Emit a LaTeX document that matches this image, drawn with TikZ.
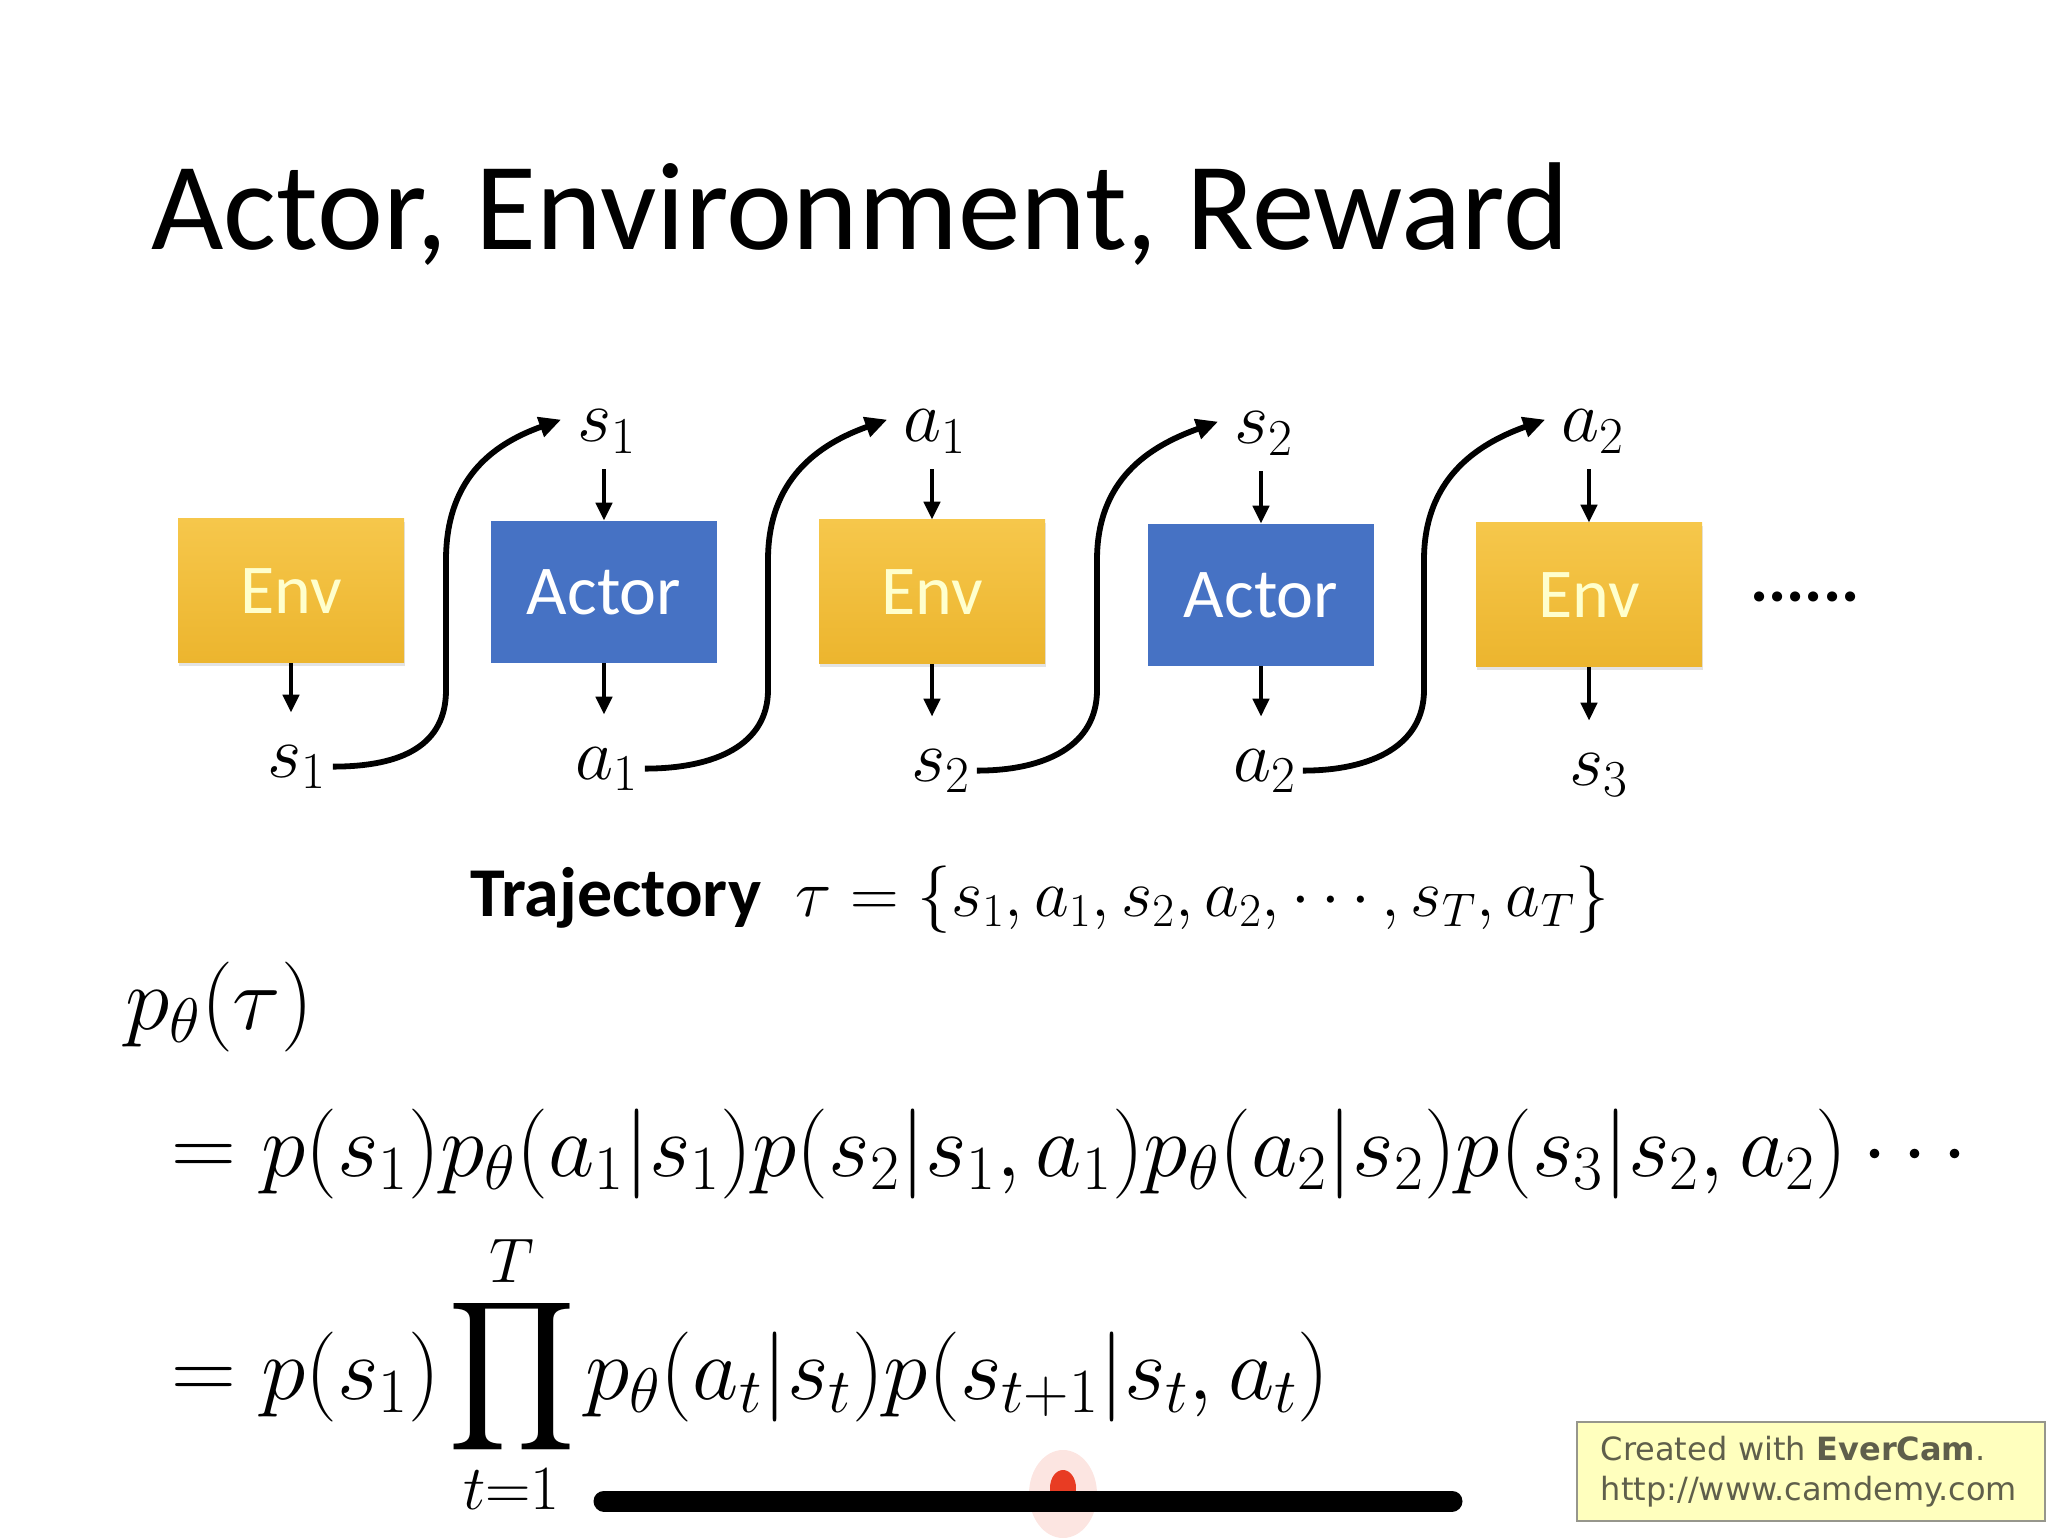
\RequirePackage{fix-cm}
\documentclass[tikz,border=0pt]{standalone}
\usepackage{exscale}
\usepackage{graphicx}
\usepackage[no-math]{fontspec}
\setmainfont{Carlito}
\newfontfamily\wmfont{DejaVu Sans}
\usetikzlibrary{arrows.meta,shadows,calc}

\definecolor{envtop}{RGB}{246,199,75}
\definecolor{envbot}{RGB}{236,181,46}
\definecolor{actfill}{RGB}{70,114,196}
\definecolor{envtext}{RGB}{255,255,205}
\definecolor{wmfill}{RGB}{255,255,190}
\definecolor{wmline}{RGB}{150,150,140}
\definecolor{wmtext}{RGB}{95,95,75}
\definecolor{dotred}{RGB}{232,60,35}

\newcommand{\bigprodsym}{\mathop{\vcenter{\hbox{\scalebox{2.0}[2.1]{$\displaystyle\prod$}}}}\limits}

\begin{document}
\begin{tikzpicture}[x=0.5pt,y=-0.5pt,
  envbox/.style={rectangle, minimum width=113pt, minimum height=72pt,
    top color=envtop, bottom color=envbot, draw=none, text=envtext,
    font=\fontsize{35}{40}\selectfont,
    drop shadow={opacity=0.22,shadow xshift=0.6pt,shadow yshift=-1.6pt}},
  actbox/.style={rectangle, minimum width=113pt, minimum height=71pt,
    fill=actfill, text=white, font=\fontsize{35}{40}\selectfont},
  lab/.style={inner sep=3pt, anchor=base, font=\fontsize{37}{42}\selectfont},
  feed/.style={-{Triangle[length=9pt,width=8pt]}, line width=2.3pt},
  flow/.style={-{Triangle[length=11pt,width=10pt]}, line width=2.9pt},
  eq/.style={inner sep=0pt, anchor=base west, font=\fontsize{45}{52}\selectfont},
  plain/.style={inner sep=0pt, anchor=base west}]

\useasboundingbox (0,0) rectangle (2058,1540);

% title
\node[plain, font=\fontsize{62.5}{70}\selectfont] (title) at (151,250) {Actor, Environment, Reward};

% boxes
\node[envbox] (E1) at (291,591) {Env};
\node[actbox] (A1) at (604,592) {Actor};
\node[envbox] (E2) at (932,592) {Env};
\node[actbox] (A2) at (1261,595) {Actor};
\node[envbox] (E3) at (1589,595) {Env};
\node[plain, font=\bfseries\fontsize{34}{40}\selectfont] (dots) at (1750,602) {......};

% top labels
\node[lab] (t1) at (607,442) {$s_1$};
\node[lab] (t2) at (935,442) {$a_1$};
\node[lab] (t3) at (1264,444) {$s_2$};
\node[lab] (t4) at (1593,442) {$a_2$};

% bottom labels
\node[lab] (b1) at (297,777) {$s_1$};
\node[lab] (b2) at (607,779) {$a_1$};
\node[lab] (b3) at (941,781) {$s_2$};
\node[lab] (b4) at (1265,781) {$a_2$};
\node[lab] (b5) at (1599,785) {$s_3$};

% short arrows
\draw[feed, shorten <=5pt] (t1.south -| A1.north) -- (A1.north);
\draw[feed, shorten <=5pt] (t2.south -| E2.north) -- (E2.north);
\draw[feed, shorten <=5pt] (t3.south -| A2.north) -- (A2.north);
\draw[feed, shorten <=5pt] (t4.south -| E3.north) -- (E3.north);
\draw[feed, shorten >=13pt] (E1.south) -- (b1.north -| E1.south);
\draw[feed, shorten >=13pt] (A1.south) -- (b2.north -| A1.south);
\draw[feed, shorten >=13pt] (E2.south) -- (b3.north -| E2.south);
\draw[feed, shorten >=13pt] (A2.south) -- (b4.north -| A2.south);
\draw[feed, shorten >=13pt] (E3.south) -- (b5.north -| E3.south);

% curved connectors
\coordinate (c1a) at (446,690); \coordinate (c1b) at (446,560);
\coordinate (c2a) at (768,690); \coordinate (c2b) at (768,560);
\coordinate (c3a) at (1097,690); \coordinate (c3b) at (1097,560);
\coordinate (c4a) at (1424,690); \coordinate (c4b) at (1424,560);

\draw[flow] (b1.east) .. controls +(70,0) and +(0,55) .. (c1a) -- (c1b)
  .. controls +(0,-80) and +(-70,25) .. ([xshift=-5pt,yshift=6pt]t1.west);
\draw[flow] (b2.east) .. controls +(70,0) and +(0,55) .. (c2a) -- (c2b)
  .. controls +(0,-80) and +(-70,25) .. ([xshift=-5pt,yshift=6pt]t2.west);
\draw[flow] (b3.east) .. controls +(70,0) and +(0,55) .. (c3a) -- (c3b)
  .. controls +(0,-80) and +(-70,25) .. ([xshift=-5pt,yshift=6pt]t3.west);
\draw[flow] (b4.east) .. controls +(70,0) and +(0,55) .. (c4a) -- (c4b)
  .. controls +(0,-80) and +(-70,25) .. ([xshift=-5pt,yshift=6pt]t4.west);

% trajectory
\node[plain, font=\fontsize{35}{40}\selectfont] (traj) at (470,916)
  {\textbf{Trajectory}\hspace{17pt}{\fontsize{33.7}{40}\selectfont$\tau=\{s_1,a_1,s_2,a_2,\cdots,s_T,a_T\}$}};

% equations
\node[eq] (ptau) at (125,1029) {$p_\theta(\tau)$};
\node[eq] (line2) at (171,1176)
  {$=p(s_1)p_\theta(a_1|s_1)p(s_2|s_1,a_1)p_\theta(a_2|s_2)p(s_3|s_2,a_2)\cdots$};
\node[eq] (line3) at (171,1399)
  {$\displaystyle =p(s_1)\mskip-1.5mu\bigprodsym_{t=1}^{T}\mskip-1mu p_\theta(a_t|s_t)p(s_{t+1}|s_t,a_t)$};

% recording artefacts
\fill[dotred!30, opacity=0.45] (1063,1494) ellipse [x radius=17pt, y radius=22pt];
\fill[dotred] (1063,1488) ellipse [x radius=6.5pt, y radius=9pt];
\draw[line width=10.5pt, line cap=round] (604,1501) -- (1452,1501);

% watermark
\node[draw=wmline, fill=wmfill, line width=0.8pt, anchor=north west,
  minimum height=49.5pt, text width=210pt, inner xsep=12pt, align=left,
  text=wmtext, font=\wmfont\fontsize{16}{20}\selectfont] (wm) at (1576,1421)
  {Created with \textbf{EverCam}.\\http://www.camdemy.com};
\end{tikzpicture}
\end{document}
